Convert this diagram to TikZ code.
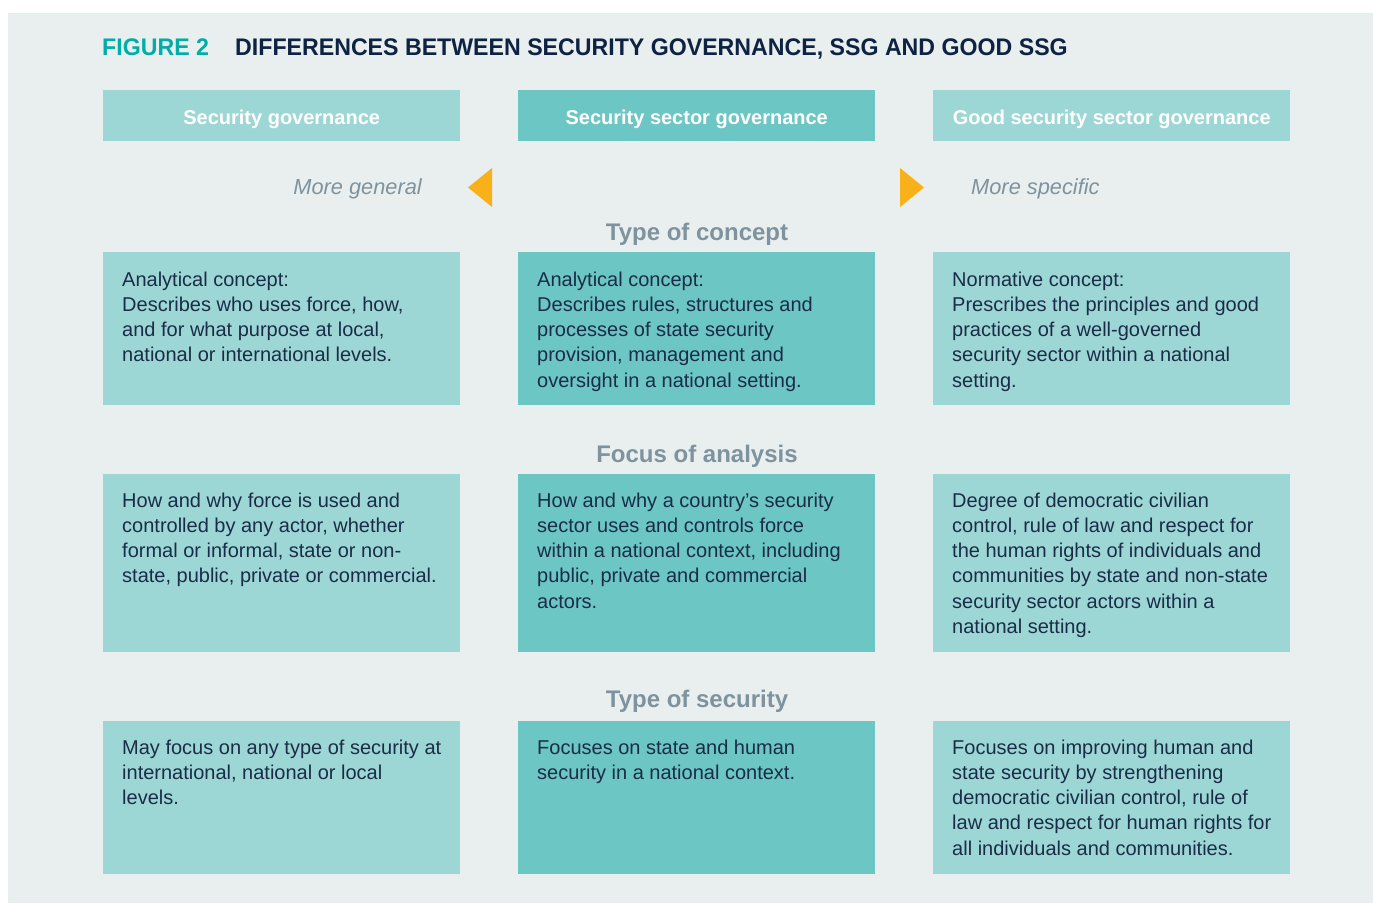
\documentclass[tikz,border=0pt]{standalone}
\usepackage{fontspec}
\setmainfont{Liberation Sans}
\newfontfamily\titlefont[FakeStretch=0.965]{Liberation Sans}
\definecolor{panelbg}{HTML}{E9EEEF}
\definecolor{lteal}{HTML}{9DD7D5}
\definecolor{mteal}{HTML}{6CC6C3}
\definecolor{figteal}{HTML}{00ADA7}
\definecolor{navy}{HTML}{0E2342}
\definecolor{bodytxt}{HTML}{1B2C48}
\definecolor{graytxt}{HTML}{7E939E}
\definecolor{arroworange}{HTML}{F9B11A}
\begin{document}
\begin{tikzpicture}[x=1pt,y=-1pt,
  boxl/.style={fill=lteal, draw=none, inner sep=0pt, minimum width=357pt, anchor=north west},
  boxm/.style={fill=mteal, draw=none, inner sep=0pt, minimum width=357pt, anchor=north west},
  headtxt/.style={text=white, font=\fontsize{20}{24}\selectfont\bfseries, anchor=base, inner sep=0pt},
  bodytext/.style={text=bodytxt, font=\fontsize{20}{25.3}\selectfont, anchor=base west, inner sep=0pt},
  rowlab/.style={text=graytxt, font=\fontsize{24}{28}\selectfont\bfseries, anchor=base, inner sep=0pt},
  dirlab/.style={text=graytxt, font=\fontsize{21.8}{24}\selectfont\itshape, inner sep=0pt},
  tri/.style={fill=arroworange, draw=none}
]
\useasboundingbox (0,0) rectangle (1373,903);
\fill[white] (0,0) rectangle (1373,903);
\fill[panelbg] (8,13) rectangle (1373,903);

% title
\node[anchor=base west, inner sep=0pt, text=figteal, font=\titlefont\fontsize{24}{28}\selectfont\bfseries] (fig) at (102,55) {FIGURE 2};
\node[anchor=base west, inner sep=0pt, text=navy, font=\titlefont\fontsize{24}{28}\selectfont\bfseries] (title) at (235,55) {DIFFERENCES BETWEEN SECURITY GOVERNANCE, SSG AND GOOD SSG};

% header boxes
\node[boxl, minimum height=51pt] (h1) at (103,90) {};
\node[boxm, minimum height=51pt] (h2) at (518,90) {};
\node[boxl, minimum height=51pt] (h3) at (933,90) {};
\node[headtxt] (h1t) at (h1.center |- 0,124) {Security governance};
\node[headtxt] (h2t) at (h2.center |- 0,124) {Security sector governance};
\node[headtxt] (h3t) at (h3.center |- 0,124) {Good security sector governance};

% direction labels and arrows
\node[dirlab, anchor=base east] (gen) at (422,194) {More general};
\node[dirlab, anchor=base west] (spec) at (971,194) {More specific};
\fill[tri] (468,187.5) -- (492,168) -- (492,207) -- cycle;
\fill[tri] (900,168) -- (924,187.5) -- (900,207) -- cycle;

% row labels
\node[rowlab] (lab1) at (697,240) {Type of concept};
\node[rowlab] (lab2) at (697,462) {Focus of analysis};
\node[rowlab] (lab3) at (697,707) {Type of security};

% row 1
\node[boxl, minimum height=153pt] (r1c1) at (103,252) {};
\node[boxm, minimum height=153pt] (r1c2) at (518,252) {};
\node[boxl, minimum height=153pt] (r1c3) at (933,252) {};
% row 2
\node[boxl, minimum height=178pt] (r2c1) at (103,474) {};
\node[boxm, minimum height=178pt] (r2c2) at (518,474) {};
\node[boxl, minimum height=178pt] (r2c3) at (933,474) {};
% row 3
\node[boxl, minimum height=153pt] (r3c1) at (103,721) {};
\node[boxm, minimum height=153pt] (r3c2) at (518,721) {};
\node[boxl, minimum height=153pt] (r3c3) at (933,721) {};

\node[bodytext] (t11) at ([shift={(19,34)}]r1c1.north west) {\parbox[t]{400pt}{\raggedright Analytical concept:\\Describes who uses force, how,\\and for what purpose at local,\\national or international levels.}};
\node[bodytext] (t12) at ([shift={(19,34)}]r1c2.north west) {\parbox[t]{400pt}{\raggedright Analytical concept:\\Describes rules, structures and\\processes of state security\\provision, management and\\oversight in a national setting.}};
\node[bodytext] (t13) at ([shift={(19,34)}]r1c3.north west) {\parbox[t]{400pt}{\raggedright Normative concept:\\Prescribes the principles and good\\practices of a well-governed\\security sector within a national\\setting.}};

\node[bodytext] (t21) at ([shift={(19,33)}]r2c1.north west) {\parbox[t]{400pt}{\raggedright How and why force is used and\\controlled by any actor, whether\\formal or informal, state or non-\\state, public, private or commercial.}};
\node[bodytext] (t22) at ([shift={(19,33)}]r2c2.north west) {\parbox[t]{400pt}{\raggedright How and why a country’s security\\sector uses and controls force\\within a national context, including\\public, private and commercial\\actors.}};
\node[bodytext] (t23) at ([shift={(19,33)}]r2c3.north west) {\parbox[t]{400pt}{\raggedright Degree of democratic civilian\\control, rule of law and respect for\\the human rights of individuals and\\communities by state and non-state\\security sector actors within a\\national setting.}};

\node[bodytext] (t31) at ([shift={(19,33)}]r3c1.north west) {\parbox[t]{400pt}{\raggedright May focus on any type of security at\\international, national or local\\levels.}};
\node[bodytext] (t32) at ([shift={(19,33)}]r3c2.north west) {\parbox[t]{400pt}{\raggedright Focuses on state and human\\security in a national context.}};
\node[bodytext] (t33) at ([shift={(19,33)}]r3c3.north west) {\parbox[t]{400pt}{\raggedright Focuses on improving human and\\state security by strengthening\\democratic civilian control, rule of\\law and respect for human rights for\\all individuals and communities.}};
\end{tikzpicture}
\end{document}
